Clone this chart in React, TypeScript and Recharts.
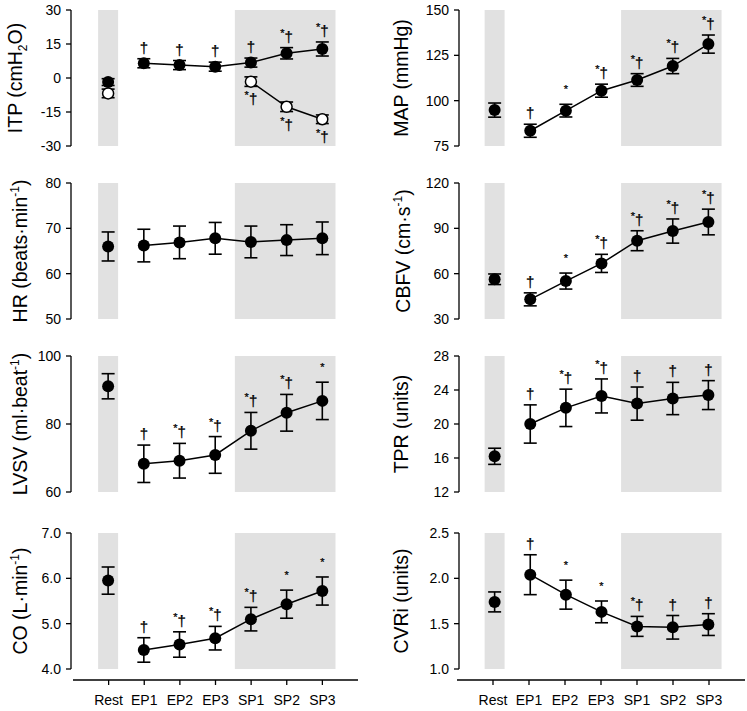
import { ComposedChart, XAxis, YAxis, Line, Scatter, ErrorBar, ReferenceArea } from 'recharts';

const FONT = '"Liberation Sans", Arial, Helvetica, sans-serif';

const categories = ['Rest', 'EP1', 'EP2', 'EP3', 'SP1', 'SP2', 'SP3'];
const xTicks = [0, 1, 2, 3, 4, 5, 6];

// ITP has two series: filled and open circles
const itpMean = [-1.8, 6.5, 5.7, 5.0, 6.8, 10.9, 12.8];
const itpErr = [1.5, 2.0, 2.0, 2.0, 2.0, 2.5, 3.1];
const itpSig = ['', '†', '†', '†', '†', '*†', '*†'];
const itpOpenMean = [-6.8, null, null, null, -1.6, -12.7, -18.2];
const itpOpenErr = [1.9, null, null, null, 2.1, 2.1, 1.9];
const itpOpenSig = ['', '', '', '', '*†', '*†', '*†'];

const mapMean = [94.8, 83.4, 94.5, 105.5, 111.4, 119.1, 131.2];
const mapErr = [3.9, 3.6, 3.5, 3.6, 3.5, 4.2, 5.0];
const mapSig = ['', '†', '*', '*†', '*†', '*†', '*†'];

const hrMean = [66.0, 66.2, 66.9, 67.8, 67.0, 67.4, 67.8];
const hrErr = [3.2, 3.6, 3.6, 3.5, 3.5, 3.4, 3.6];
const hrSig = ['', '', '', '', '', '', ''];

const cbfvMean = [56.3, 43.0, 55.1, 66.8, 81.8, 88.2, 94.2];
const cbfvErr = [3.5, 4.3, 5.3, 6.0, 6.6, 8.0, 8.5];
const cbfvSig = ['', '†', '*', '*†', '*†', '*†', '*†'];

const lvsvMean = [91.1, 68.3, 69.2, 70.9, 78.0, 83.3, 86.8];
const lvsvErr = [3.7, 5.5, 5.1, 5.4, 5.4, 5.4, 5.5];
const lvsvSig = ['', '†', '*†', '*†', '*†', '*†', '*'];

const tprMean = [16.2, 20.0, 21.9, 23.3, 22.4, 23.0, 23.4];
const tprErr = [0.95, 2.25, 2.2, 2.0, 1.95, 1.9, 1.7];
const tprSig = ['', '†', '*†', '*†', '†', '†', '†'];

const coMean = [5.95, 4.42, 4.54, 4.68, 5.10, 5.43, 5.72];
const coErr = [0.30, 0.27, 0.28, 0.26, 0.26, 0.31, 0.31];
const coSig = ['', '†', '*†', '*†', '*†', '*', '*'];

const cvriMean = [1.74, 2.04, 1.82, 1.63, 1.47, 1.46, 1.49];
const cvriErr = [0.11, 0.22, 0.16, 0.12, 0.11, 0.13, 0.12];
const cvriSig = ['', '†', '*', '*', '*†', '†', '†'];

const itpTicks = [-30, -15, 0, 15, 30];
const mapTicks = [75, 100, 125, 150];
const hrTicks = [50, 60, 70, 80];
const cbfvTicks = [30, 60, 90, 120];
const lvsvTicks = [60, 80, 100];
const tprTicks = [12, 16, 20, 24, 28];
const coTicks = [4, 5, 6, 7];
const cvriTicks = [1, 1.5, 2, 2.5];

type Part = [string, string?];

const buildRows = (mean: (number | null)[], err: (number | null)[], sig: string[]) =>
  categories
    .map((c, i) => ({ x: i, name: c, v: mean[i], e: err[i], sig: sig[i] }))
    .filter((r) => r.v !== null)
    .map((r) => ({ ...r, hi: (r.v as number) + (r.e as number), lo: (r.v as number) - (r.e as number) }));

const AxisTitle = ({ parts, lx, ly }: { parts: Part[]; lx: number; ly: number }) => {
  let shift = 0;
  return (
    <text transform={`translate(${lx},${ly}) rotate(-90)`} textAnchor="middle" fontSize={19.5} fontFamily={FONT} fill="#000">
      {parts.map(([t, k], i) => {
        let target = 0;
        if (k === 'sub') target = 5;
        if (k === 'sup') target = -8;
        const dy = target - shift;
        shift = target;
        return (
          <tspan key={i} dy={dy} fontSize={k ? 12 : 19.5}>
            {t}
          </tspan>
        );
      })}
    </text>
  );
};

const SigMark = (props: any) => {
  const { cx, cy, payload, below } = props;
  const s: string = payload.sig;
  if (!s) return <g />;
  const y = below ? cy + 18 : cy - 6;
  const star = s.includes('*');
  const dag = s.includes('†');
  return (
    <text x={cx} y={y} textAnchor="middle" fontFamily={FONT} fill="#000" stroke="#000" strokeWidth={0.25}>
      {star && (
        <tspan fontSize={11} dy={-5}>
          *
        </tspan>
      )}
      {dag && (
        <tspan fontSize={15} dy={star ? 5 : 0}>
          †
        </tspan>
      )}
    </text>
  );
};

const filledDot = (p: any) => <circle cx={p.cx} cy={p.cy} r={6} fill="#000" />;
const openDot = (p: any) => <circle cx={p.cx} cy={p.cy} r={5.5} fill="#fff" stroke="#000" strokeWidth={1.5} />;

type Series = { mean: (number | null)[]; err: (number | null)[]; sig: string[]; open?: boolean };

type PanelDef = {
  series: Series[];
  ticks: number[];
  decimals: number;
  title: Part[];
  lx: number;
};

const COL = [
  { left: 0, width: 373, axisW: 71, right: 15, domain: [-1.04, 7] },
  { left: 373, width: 374, axisW: 86, right: 3, domain: [-1, 7] },
];
const PLOT_TOPS = [10, 183, 356, 533];
const PLOT_H = 136;

const leftPanels: PanelDef[] = [
  { series: [{ mean: itpMean, err: itpErr, sig: itpSig }, { mean: itpOpenMean, err: itpOpenErr, sig: itpOpenSig, open: true }], ticks: itpTicks, decimals: 0, title: [['ITP (cmH'], ['2', 'sub'], ['O)']], lx: 22 },
  { series: [{ mean: hrMean, err: hrErr, sig: hrSig }], ticks: hrTicks, decimals: 0, title: [['HR (beats·min'], ['-1', 'sup'], [')']], lx: 27 },
  { series: [{ mean: lvsvMean, err: lvsvErr, sig: lvsvSig }], ticks: lvsvTicks, decimals: 0, title: [['LVSV (ml·beat'], ['-1', 'sup'], [')']], lx: 27 },
  { series: [{ mean: coMean, err: coErr, sig: coSig }], ticks: coTicks, decimals: 1, title: [['CO (L·min'], ['-1', 'sup'], [')']], lx: 27 },
];
const rightPanels: PanelDef[] = [
  { series: [{ mean: mapMean, err: mapErr, sig: mapSig }], ticks: mapTicks, decimals: 0, title: [['MAP (mmHg)']], lx: 35 },
  { series: [{ mean: cbfvMean, err: cbfvErr, sig: cbfvSig }], ticks: cbfvTicks, decimals: 0, title: [['CBFV (cm·s'], ['-1', 'sup'], [')']], lx: 37 },
  { series: [{ mean: tprMean, err: tprErr, sig: tprSig }], ticks: tprTicks, decimals: 0, title: [['TPR (units)']], lx: 35 },
  { series: [{ mean: cvriMean, err: cvriErr, sig: cvriSig }], ticks: cvriTicks, decimals: 1, title: [['CVRi (units)']], lx: 35 },
];

function Panel({ def, col, row }: { def: PanelDef; col: number; row: number }) {
  const c = COL[col];
  const top = PLOT_TOPS[row] - 10;
  const yMin = def.ticks[0];
  const yMax = def.ticks[def.ticks.length - 1];
  return (
    <div style={{ position: 'absolute', left: c.left, top }}>
      <ComposedChart width={c.width} height={173} margin={{ top: 10, right: c.right, bottom: 27, left: 0 }}>
        <XAxis type="number" dataKey="x" domain={c.domain} allowDataOverflow hide />
        <YAxis
          type="number"
          domain={[yMin, yMax]}
          ticks={def.ticks}
          interval={0}
          width={c.axisW}
          tickSize={5}
          tickMargin={5}
          axisLine={{ stroke: '#000', strokeWidth: 1.3 }}
          tickLine={{ stroke: '#000', strokeWidth: 1.3 }}
          tick={{ fill: '#000', fontSize: 14, fontFamily: FONT }}
          tickFormatter={(v: number) => v.toFixed(def.decimals)}
          label={<AxisTitle parts={def.title} lx={def.lx} ly={10 + PLOT_H / 2} />}
        />
        <ReferenceArea x1={-0.28} x2={0.28} y1={yMin} y2={yMax} fill="#e1e1e1" fillOpacity={1} stroke="none" />
        <ReferenceArea x1={3.55} x2={6.37} y1={yMin} y2={yMax} fill="#e1e1e1" fillOpacity={1} stroke="none" />
        {def.series.map((s, i) => {
          const rows = buildRows(s.mean, s.err, s.sig);
          return (
            <Line
              key={'l' + i}
              data={rows.filter((r) => r.x > 0)}
              dataKey="v"
              type="linear"
              stroke="#000"
              strokeWidth={1.5}
              dot={false}
              activeDot={false}
              isAnimationActive={false}
            />
          );
        })}
        {def.series.map((s, i) => {
          const rows = buildRows(s.mean, s.err, s.sig);
          return (
            <Scatter key={'s' + i} data={rows} dataKey="v" shape={s.open ? openDot : filledDot} isAnimationActive={false}>
              <ErrorBar dataKey="e" direction="y" width={6.5} stroke="#000" strokeWidth={1.6} />
            </Scatter>
          );
        })}
        {def.series.map((s, i) => {
          const rows = buildRows(s.mean, s.err, s.sig);
          return (
            <Scatter
              key={'g' + i}
              data={rows}
              dataKey={s.open ? 'lo' : 'hi'}
              shape={(p: any) => <SigMark {...p} below={!!s.open} />}
              isAnimationActive={false}
            />
          );
        })}
      </ComposedChart>
    </div>
  );
}

function CategoryAxis({ col }: { col: number }) {
  const left = col === 0 ? 0 : 373;
  const width = col === 0 ? 373 : 374;
  const ml = col === 0 ? 73 : 84;
  const mr = col === 0 ? 15 : 2;
  const rows = categories.map((c, i) => ({ x: i, name: c }));
  return (
    <div style={{ position: 'absolute', left, top: 670 }}>
      <ComposedChart width={width} height={41} data={rows} margin={{ top: 0, right: mr, bottom: 0, left: ml }}>
        <XAxis
          type="number"
          dataKey="x"
          domain={[-1, 7]}
          ticks={xTicks}
          interval={0}
          height={31}
          tickSize={5}
          tickMargin={10}
          axisLine={{ stroke: '#000', strokeWidth: 1.3 }}
          tickLine={{ stroke: '#000', strokeWidth: 1.3 }}
          tick={{ fill: '#000', fontSize: 14, fontFamily: FONT }}
          tickFormatter={(v: number) => categories[v]}
        />
        <YAxis hide domain={[0, 1]} />
      </ComposedChart>
    </div>
  );
}

export default function App() {
  return (
    <div style={{ position: 'absolute', left: 0, top: 0, width: 747, height: 711, background: '#fff', fontFamily: FONT }}>
      {leftPanels.map((d, i) => (
        <Panel key={'L' + i} def={d} col={0} row={i} />
      ))}
      {rightPanels.map((d, i) => (
        <Panel key={'R' + i} def={d} col={1} row={i} />
      ))}
      <CategoryAxis col={0} />
      <CategoryAxis col={1} />
    </div>
  );
}
